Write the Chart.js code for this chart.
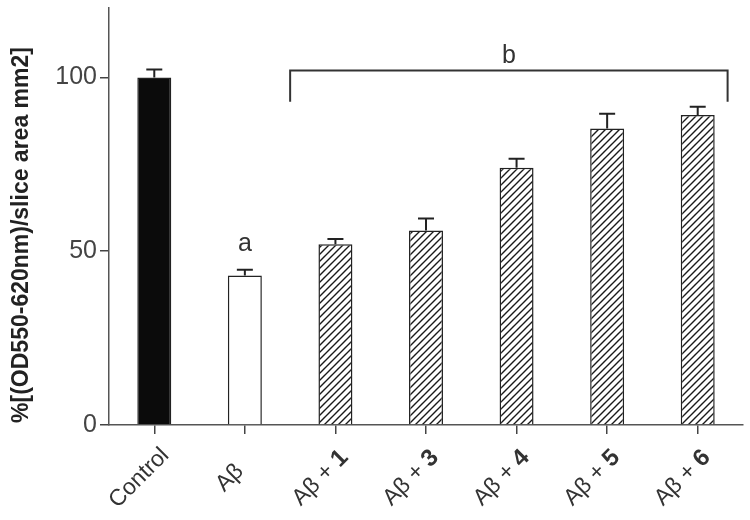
<!DOCTYPE html>
<html>
<head>
<meta charset="utf-8">
<script src="https://cdn.jsdelivr.net/npm/chart.js@4.4.1/dist/chart.umd.min.js"></script>
<style>
  html, body { margin: 0; padding: 0; background: #fff; }
  #wrap { width: 750px; height: 520px; }
</style>
</head>
<body>
<div id="wrap"><canvas id="myChart"></canvas></div>
<script>
// data
const categories = ['Control', 'Aβ', 'Aβ + 1', 'Aβ + 3', 'Aβ + 4', 'Aβ + 5', 'Aβ + 6'];
const values = [100, 43, 52, 56, 74, 85.3, 89.2];
const errors = [2.3, 1.7, 1.5, 3.4, 2.6, 4.3, 2.4];
const yTicks = [0, 50, 100];
const yTitle = '%[(OD550-620nm)/slice area mm2]';
// significance marks
const sigA = { text: 'a', idx: 1 };
const sigB = { text: 'b', from: 1.5, to: 6.33, level: 102, drop: 93 };

const FONT = '"Liberation Sans", Arial, sans-serif';
const INK = '#222';

// diagonal hatch fill
function makeHatch() {
  const s = 7;
  const c = document.createElement('canvas');
  c.width = s; c.height = s;
  const g = c.getContext('2d');
  g.fillStyle = '#fff';
  g.fillRect(0, 0, s, s);
  g.strokeStyle = '#1a1a1a';
  g.lineWidth = 1.4;
  g.beginPath();
  g.moveTo(0, s); g.lineTo(s, 0);
  g.moveTo(-1, 1); g.lineTo(1, -1);
  g.moveTo(s - 1, s + 1); g.lineTo(s + 1, s - 1);
  g.stroke();
  return g.createPattern(c, 'repeat');
}
const hatch = makeHatch();
const fills = categories.map((c, i) => i === 0 ? '#0b0b0b' : (i === 1 ? '#fff' : hatch));

// error bars, labels, y title and significance marks
const extras = {
  id: 'extras',
  afterDatasetsDraw(chart) {
    const ctx = chart.ctx;
    const xs = chart.scales.x, ys = chart.scales.y;
    ctx.save();
    ctx.strokeStyle = INK;
    ctx.lineWidth = 2;
    values.forEach((v, i) => {
      const x = xs.getPixelForValue(i);
      const y0 = ys.getPixelForValue(v);
      const y1 = ys.getPixelForValue(v + errors[i]);
      ctx.beginPath();
      ctx.moveTo(x, y0); ctx.lineTo(x, y1);
      ctx.moveTo(x - 8, y1); ctx.lineTo(x + 8, y1);
      ctx.stroke();
    });

    // bracket "b"
    const bx1 = xs.getPixelForValue(sigB.from);
    const bx2 = xs.getPixelForValue(sigB.to);
    const by = ys.getPixelForValue(sigB.level);
    const bd = ys.getPixelForValue(sigB.drop);
    ctx.strokeStyle = '#333';
    ctx.lineWidth = 2;
    ctx.beginPath();
    ctx.moveTo(bx1, bd); ctx.lineTo(bx1, by); ctx.lineTo(bx2, by); ctx.lineTo(bx2, bd);
    ctx.stroke();

    ctx.fillStyle = '#333';
    ctx.font = '25px ' + FONT;
    ctx.textAlign = 'center';
    ctx.textBaseline = 'alphabetic';
    ctx.fillText(sigB.text, (bx1 + bx2) / 2, by - 8);
    const ax = xs.getPixelForValue(sigA.idx);
    const ay = ys.getPixelForValue(values[sigA.idx] + errors[sigA.idx]);
    ctx.fillText(sigA.text, ax, ay - 19);

    // y title
    ctx.save();
    ctx.translate(22, 235);
    ctx.rotate(-Math.PI / 2);
    ctx.font = 'bold 23px ' + FONT;
    ctx.fillStyle = '#222';
    ctx.textAlign = 'center';
    ctx.textBaseline = 'middle';
    ctx.fillText(yTitle, 0, 0);
    ctx.restore();

    // rotated category labels (centred below-left of the tick), number in bold
    const base = xs.top + 53;
    categories.forEach((lab, i) => {
      const parts = lab.split(' + ');
      const segs = parts.length > 1
        ? [[parts[0] + ' + ', '23px ' + FONT], [parts[1], 'bold 24px ' + FONT]]
        : [[lab, '23px ' + FONT]];
      let w = 0;
      segs.forEach(s => { ctx.font = s[1]; w += ctx.measureText(s[0]).width; });
      ctx.save();
      ctx.translate(xs.getPixelForValue(i) - 15, base);
      ctx.rotate(-Math.PI / 4);
      ctx.textAlign = 'left';
      ctx.textBaseline = 'middle';
      ctx.fillStyle = '#333';
      let px = -w / 2;
      segs.forEach(s => {
        ctx.font = s[1];
        ctx.fillText(s[0], px, 0);
        px += ctx.measureText(s[0]).width;
      });
      ctx.restore();
    });
    ctx.restore();
  }
};

const ctx = document.getElementById('myChart');
const myChart = new Chart(ctx, {
  type: 'bar',
  data: {
    labels: categories,
    datasets: [{
      data: values,
      backgroundColor: fills,
      borderColor: INK,
      borderWidth: 1.5,
      borderSkipped: 'bottom',
      categoryPercentage: 1,
      barPercentage: 0.375
    }]
  },
  options: {
    responsive: true,
    maintainAspectRatio: false,
    animation: false,
    layout: { padding: { top: 8, right: 7, left: 0, bottom: 0 } },
    plugins: { legend: { display: false }, tooltip: { enabled: false } },
    scales: {
      x: {
        afterFit(scale) { scale.height = 95; },
        border: { color: '#555', width: 1.5 },
        grid: { display: true, offset: false, drawOnChartArea: false, drawTicks: true, tickLength: 9, color: '#444', lineWidth: 1.5 },
        ticks: { display: false }
      },
      y: {
        min: 0,
        max: 120,
        afterFit(scale) { scale.width = 109; scale.paddingTop = 0; },
        afterBuildTicks(scale) { scale.ticks = yTicks.map(v => ({ value: v })); },
        border: { color: '#555', width: 1.5 },
        grid: { drawOnChartArea: false, tickLength: 9, color: '#444', lineWidth: 1.5 },
        ticks: { color: '#444', padding: 3, font: { family: FONT, size: 25 } }
      }
    }
  },
  plugins: [extras]
});
</script>
</body>
</html>
